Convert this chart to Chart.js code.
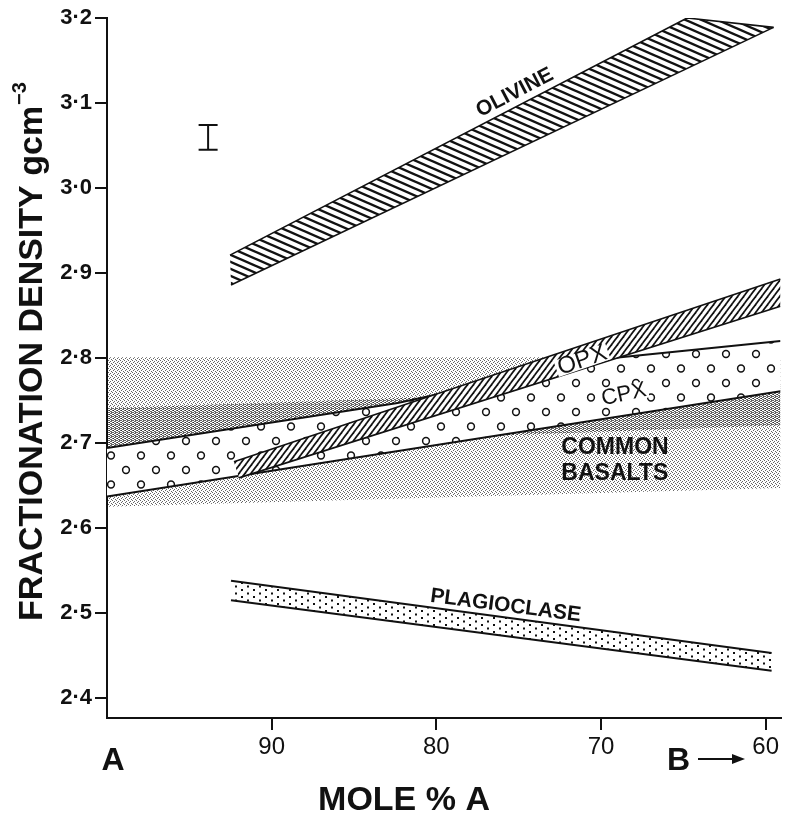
<!DOCTYPE html>
<html>
<head>
<meta charset="utf-8">
<title>Fractionation density</title>
<script src="https://cdn.jsdelivr.net/npm/chart.js@4.4.1/dist/chart.umd.min.js"></script>
<style>
    html, body { margin: 0; padding: 0; background: #fff; }
    #wrap { width: 792px; height: 816px; }
</style>
</head>
<body>
<div id="wrap"><canvas id="densityChart" width="792" height="816"></canvas></div>
<script>
// Fractionation density of minerals vs mole % A

// axis ticks
const xTicks = [90, 80, 70, 60];
const yTicks = [2.4, 2.5, 2.6, 2.7, 2.8, 2.9, 3.0, 3.1, 3.2];

// band edges (x = mole % A, y = density g/cm3)
const olivineUpX = [92.53, 64.77];
const olivineUpY = [2.921, 3.2];
const olivineLowX = [92.47, 59.52];
const olivineLowY = [2.886, 3.189];

const opxUpX = [92.29, 59.1];
const opxUpY = [2.678, 2.893];
const opxLowX = [91.99, 59.1];
const opxLowY = [2.659, 2.861];

const cpxUpX = [100, 82.35, 70.3, 59.1];
const cpxUpY = [2.694, 2.747, 2.798, 2.820];
const cpxLowX = [100, 59.1];
const cpxLowY = [2.637, 2.761];

const basaltUpX = [100, 59.1];
const basaltUpY = [2.801, 2.801];
const basaltLowX = [100, 59.1];
const basaltLowY = [2.625, 2.647];

const basaltDarkUpX = [100, 59.1];
const basaltDarkUpY = [2.741, 2.768];
const basaltDarkLowX = [100, 59.1];
const basaltDarkLowY = [2.692, 2.721];

const plagUpX = [92.47, 59.64];
const plagUpY = [2.538, 2.453];
const plagLowX = [92.47, 59.64];
const plagLowY = [2.515, 2.432];

// error bar
const errX = [93.86, 93.86];
const errY = [3.074, 3.045];

const FONT = "'Liberation Sans', Arial, Helvetica, sans-serif";
const INK = '#111';

const canvas = document.getElementById('densityChart');
const mainCtx = canvas.getContext('2d');

function makePattern(w, h, draw) {
    const tile = document.createElement('canvas');
    tile.width = w;
    tile.height = h;
    const g = tile.getContext('2d');
    draw(g, w, h);
    return mainCtx.createPattern(tile, 'repeat');
}

// olivine: lines falling to the right
const olivineHatch = makePattern(16, 7, function(g, w, h) {
    g.fillStyle = '#fff';
    g.fillRect(0, 0, w, h);
    g.strokeStyle = INK;
    g.lineWidth = 2.4;
    for (let k = -1; k <= 1; k++) {
        g.beginPath();
        g.moveTo(-w, -h + k * h);
        g.lineTo(2 * w, 2 * h + k * h);
        g.stroke();
    }
});

// opx: steep lines rising to the right
const opxHatch = makePattern(6, 8, function(g, w, h) {
    g.fillStyle = '#fff';
    g.fillRect(0, 0, w, h);
    g.strokeStyle = INK;
    g.lineWidth = 1.7;
    for (let k = 0; k <= 2; k++) {
        g.beginPath();
        g.moveTo(-w, k * h + h);
        g.lineTo(2 * w, k * h - 2 * h);
        g.stroke();
    }
});

// cpx: open circles
const cpxCircles = makePattern(30, 29, function(g, w, h) {
    g.fillStyle = '#fff';
    g.fillRect(0, 0, w, h);
    g.strokeStyle = INK;
    g.lineWidth = 1.5;
    [[6, 6], [21, 20.5]].forEach(function(c) {
        g.beginPath();
        g.arc(c[0], c[1], 3.4, 0, Math.PI * 2);
        g.stroke();
    });
});

// basalts: grey stipple
const basaltStipple = makePattern(4, 4, function(g) {
    g.fillStyle = 'rgba(0,0,0,0.6)';
    [[0, 0], [2, 1], [1, 2], [3, 3]].forEach(function(p) { g.fillRect(p[0], p[1], 1, 1); });
});
const basaltDarkStipple = makePattern(4, 4, function(g) {
    g.fillStyle = 'rgba(0,0,0,0.6)';
    [[1, 0], [3, 1], [0, 2], [2, 3], [3, 0], [1, 2]].forEach(function(p) { g.fillRect(p[0], p[1], 1, 1); });
});

// plagioclase: small dots
const plagDots = makePattern(12, 7, function(g) {
    g.fillStyle = '#fff';
    g.fillRect(0, 0, 12, 7);
    g.fillStyle = INK;
    g.fillRect(1, 1, 2, 2);
    g.fillRect(7, 4.5, 2, 2);
});

function pts(xs, ys) {
    return xs.map(function(x, i) { return {x: x, y: ys[i]}; });
}

// one filled polygon (upper edge left->right, lower edge back) plus its two edge lines
function bandSets(upX, upY, lowX, lowY, fill, order, edgeWidth, closeRight) {
    const poly = pts(upX, upY).concat(pts(lowX, lowY).reverse());
    const sets = [];
    if (edgeWidth > 0) {
        const upper = pts(upX, upY);
        if (closeRight) {
            upper.push({x: lowX[lowX.length - 1], y: lowY[lowY.length - 1]});
        }
        [upper, pts(lowX, lowY)].forEach(function(edge) {
            sets.push({
                data: edge,
                fill: false,
                borderColor: INK,
                borderWidth: edgeWidth,
                pointRadius: 0,
                order: order
            });
        });
    }
    sets.push({
        data: poly,
        fill: 'shape',
        backgroundColor: fill,
        borderWidth: 0,
        borderColor: 'rgba(0,0,0,0)',
        pointRadius: 0,
        order: order
    });
    return sets;
}

const labelPlugin = {
    id: 'labels',
    afterDatasetsDraw: function(chart) {
        const ctx = chart.ctx;
        const x = chart.scales.x;
        const y = chart.scales.y;
        function put(text, vx, vy, angle, font, align, knockout) {
            ctx.save();
            ctx.translate(x.getPixelForValue(vx), y.getPixelForValue(vy));
            ctx.rotate(angle * Math.PI / 180);
            ctx.font = font;
            ctx.textAlign = align || 'center';
            ctx.textBaseline = 'middle';
            if (knockout) {
                const w = ctx.measureText(text).width;
                const x0 = align === 'left' ? 0 : -w / 2;
                ctx.fillStyle = '#fff';
                ctx.fillRect(x0 - 2, -9, w + 4, 17);
            }
            ctx.fillStyle = INK;
            ctx.fillText(text, 0, 0);
            ctx.restore();
        }
        put('OLIVINE', 75.24, 3.112, -27.5, 'bold 21px ' + FONT);
        put('OPX', 71.14, 2.797, -19, '24px ' + FONT, 'center', true);
        put('CPX', 68.61, 2.757, -12, '22px ' + FONT, 'center', true);
        put('COMMON', 72.41, 2.695, 0, 'bold 23px ' + FONT, 'left');
        put('BASALTS', 72.41, 2.6635, 0, 'bold 23px ' + FONT, 'left');
        put('PLAGIOCLASE', 80.36, 2.52, 7.4, 'bold 21px ' + FONT, 'left');
    },
    afterDraw: function(chart) {
        const ctx = chart.ctx;
        const area = chart.chartArea;
        ctx.save();
        ctx.fillStyle = INK;
        ctx.strokeStyle = INK;

        // y axis title with superscript
        const main = 'FRACTIONATION DENSITY gcm';
        const sup = '\u22123';
        ctx.font = 'bold 34px ' + FONT;
        const wMain = ctx.measureText(main).width;
        ctx.font = 'bold 20px ' + FONT;
        const wSup = ctx.measureText(sup).width;
        ctx.save();
        ctx.translate(42, (area.top + area.bottom) / 2 - 16);
        ctx.rotate(-Math.PI / 2);
        ctx.textAlign = 'left';
        ctx.textBaseline = 'alphabetic';
        const start = -(wMain + wSup) / 2;
        ctx.font = 'bold 34px ' + FONT;
        ctx.fillText(main, start, 0);
        ctx.font = 'bold 20px ' + FONT;
        ctx.fillText(sup, start + wMain + 1, -16);
        ctx.restore();

        // x axis title and end members
        ctx.textAlign = 'center';
        ctx.textBaseline = 'alphabetic';
        ctx.font = 'bold 34px ' + FONT;
        ctx.fillText('MOLE % A', 404, 810);
        ctx.font = 'bold 32px ' + FONT;
        ctx.fillText('A', 113, 770);
        ctx.textAlign = 'left';
        ctx.fillText('B', 667, 770);
        ctx.lineWidth = 2;
        ctx.beginPath();
        ctx.moveTo(698, 759);
        ctx.lineTo(734, 759);
        ctx.stroke();
        ctx.beginPath();
        ctx.moveTo(745, 759);
        ctx.lineTo(732, 754);
        ctx.lineTo(732, 764);
        ctx.closePath();
        ctx.fill();
        ctx.restore();
    }
};

const datasets = [
    {
        data: pts(errX, errY),
        borderColor: INK,
        borderWidth: 2,
        pointStyle: 'line',
        pointRadius: 9.5,
        pointBorderColor: INK,
        pointBorderWidth: 2,
        fill: false,
        order: 1
    }
].concat(
    bandSets(plagUpX, plagUpY, plagLowX, plagLowY, plagDots, 2, 2),
    bandSets(olivineUpX, olivineUpY, olivineLowX, olivineLowY, olivineHatch, 3, 1.6, true),
    bandSets(opxUpX, opxUpY, opxLowX, opxLowY, opxHatch, 4, 1.6),
    bandSets(cpxUpX, cpxUpY, cpxLowX, cpxLowY, cpxCircles, 5, 2),
    bandSets(basaltDarkUpX, basaltDarkUpY, basaltDarkLowX, basaltDarkLowY, basaltDarkStipple, 6, 0),
    bandSets(basaltUpX, basaltUpY, basaltLowX, basaltLowY, basaltStipple, 7, 0)
);

new Chart(canvas, {
    type: 'line',
    data: { datasets: datasets },
    options: {
        responsive: false,
        animation: false,
        events: [],
        layout: { padding: { top: 18, right: 6, bottom: 0, left: 0 } },
        plugins: {
            legend: { display: false },
            tooltip: { enabled: false }
        },
        scales: {
            x: {
                type: 'linear',
                reverse: true,
                min: 59.1,
                max: 100,
                afterBuildTicks: function(s) { s.ticks = xTicks.map(function(v) { return {value: v}; }); },
                afterFit: function(s) { s.height = 98; },
                ticks: {
                    autoSkip: false,
                    maxRotation: 0,
                    padding: 3,
                    color: INK,
                    font: { family: FONT, size: 24 },
                    callback: function(v) { return String(v); }
                },
                grid: { drawOnChartArea: false, drawTicks: true, tickLength: 12, color: INK, lineWidth: 2 },
                border: { display: true, color: INK, width: 2 }
            },
            y: {
                type: 'linear',
                min: 2.3765,
                max: 3.2,
                afterBuildTicks: function(s) { s.ticks = yTicks.map(function(v) { return {value: v}; }); },
                afterFit: function(s) { s.width = 107; },
                ticks: {
                    autoSkip: false,
                    padding: 3,
                    color: INK,
                    font: { family: FONT, size: 22, weight: 'bold' },
                    callback: function(v) { return v.toFixed(1).replace('.', '\u00b7'); }
                },
                grid: { drawOnChartArea: false, drawTicks: true, tickLength: 12, color: INK, lineWidth: 2 },
                border: { display: true, color: INK, width: 2 }
            }
        }
    },
    plugins: [labelPlugin]
});
</script>
</body>
</html>
